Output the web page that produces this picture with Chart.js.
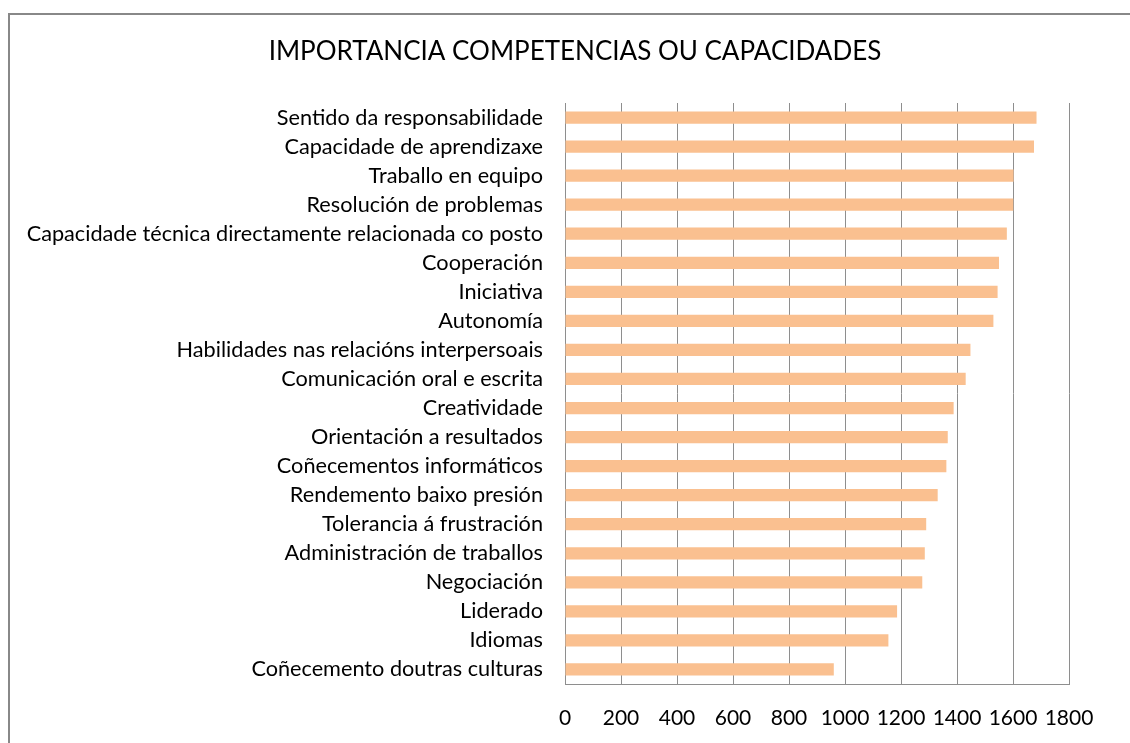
<!DOCTYPE html>
<html>
<head>
<meta charset="utf-8">
<script src="https://cdn.jsdelivr.net/npm/chart.js"></script>
<style>
    html, body { margin: 0; padding: 0; background: #fff; overflow: hidden; }
    #wrap { position: absolute; left: 0; top: 0; width: 1130px; height: 743px; }
    #frame {
        position: absolute; left: 8px; top: 13px;
        width: 1140px; height: 800px;
        border: 2px solid #888;
        box-sizing: border-box;
    }
</style>
</head>
<body>
<div id="frame"></div>
<div id="wrap"><canvas id="competencesChart"></canvas></div>
<script>
// Chart data
const chartTitle = 'IMPORTANCIA COMPETENCIAS OU CAPACIDADES';

const competences = [
    'Sentido da responsabilidade',
    'Capacidade de aprendizaxe',
    'Traballo en equipo',
    'Resolución de problemas',
    'Capacidade técnica directamente relacionada co posto',
    'Cooperación',
    'Iniciativa',
    'Autonomía',
    'Habilidades nas relacións interpersoais',
    'Comunicación oral e escrita',
    'Creatividade',
    'Orientación a resultados',
    'Coñecementos informáticos',
    'Rendemento baixo presión',
    'Tolerancia á frustración',
    'Administración de traballos',
    'Negociación',
    'Liderado',
    'Idiomas',
    'Coñecemento doutras culturas'
];

const importance = [
    1684, 1675, 1602, 1601, 1578, 1550, 1545, 1530, 1448, 1431,
    1388, 1367, 1362, 1331, 1290, 1285, 1276, 1186, 1155, 960
];

const axisMin = 0;
const axisMax = 1800;
const axisStep = 200;

const FONT = 'Lato, "Open Sans", sans-serif';
const GRID_COLOR = '#8e8e8e';

// Title centred on the outer frame, not on the plot
const frameTitle = {
    id: 'frameTitle',
    afterDraw(chart) {
        const c = chart.ctx;
        c.save();
        c.font = '26px ' + FONT;
        c.fillStyle = '#000';
        c.textAlign = 'center';
        c.textBaseline = 'middle';
        c.fillText(chartTitle, 575, 52);
        c.restore();
    }
};

document.addEventListener('DOMContentLoaded', function() {
    const ctx = document.getElementById('competencesChart');

    new Chart(ctx, {
        type: 'bar',
        data: {
            labels: competences,
            datasets: [{
                data: importance,
                backgroundColor: '#fac090',
                borderWidth: 0,
                categoryPercentage: 1,
                barPercentage: 0.42
            }]
        },
        plugins: [frameTitle],
        options: {
            indexAxis: 'y',
            responsive: true,
            maintainAspectRatio: false,
            animation: false,
            layout: {
                padding: { left: 0, right: 61, top: 103, bottom: 0 }
            },
            plugins: {
                legend: { display: false },
                tooltip: { enabled: false },
                title: { display: false }
            },
            scales: {
                x: {
                    min: axisMin,
                    max: axisMax,
                    ticks: {
                        stepSize: axisStep,
                        autoSkip: false,
                        maxRotation: 0,
                        color: '#000',
                        padding: 22,
                        font: { family: FONT, size: 21 },
                        callback: value => String(value)
                    },
                    grid: {
                        color: GRID_COLOR,
                        lineWidth: 1,
                        drawTicks: false
                    },
                    border: { display: true, color: GRID_COLOR, width: 1 },
                    afterFit: function(scale) { scale.height = 59; }
                },
                y: {
                    ticks: {
                        color: '#000',
                        padding: 22,
                        autoSkip: false,
                        font: { family: FONT, size: 21.7 }
                    },
                    grid: { display: false, drawTicks: false },
                    border: { display: true, color: GRID_COLOR, width: 1 },
                    afterFit: function(scale) { scale.width = 565; }
                }
            }
        }
    });
});
</script>
</body>
</html>
